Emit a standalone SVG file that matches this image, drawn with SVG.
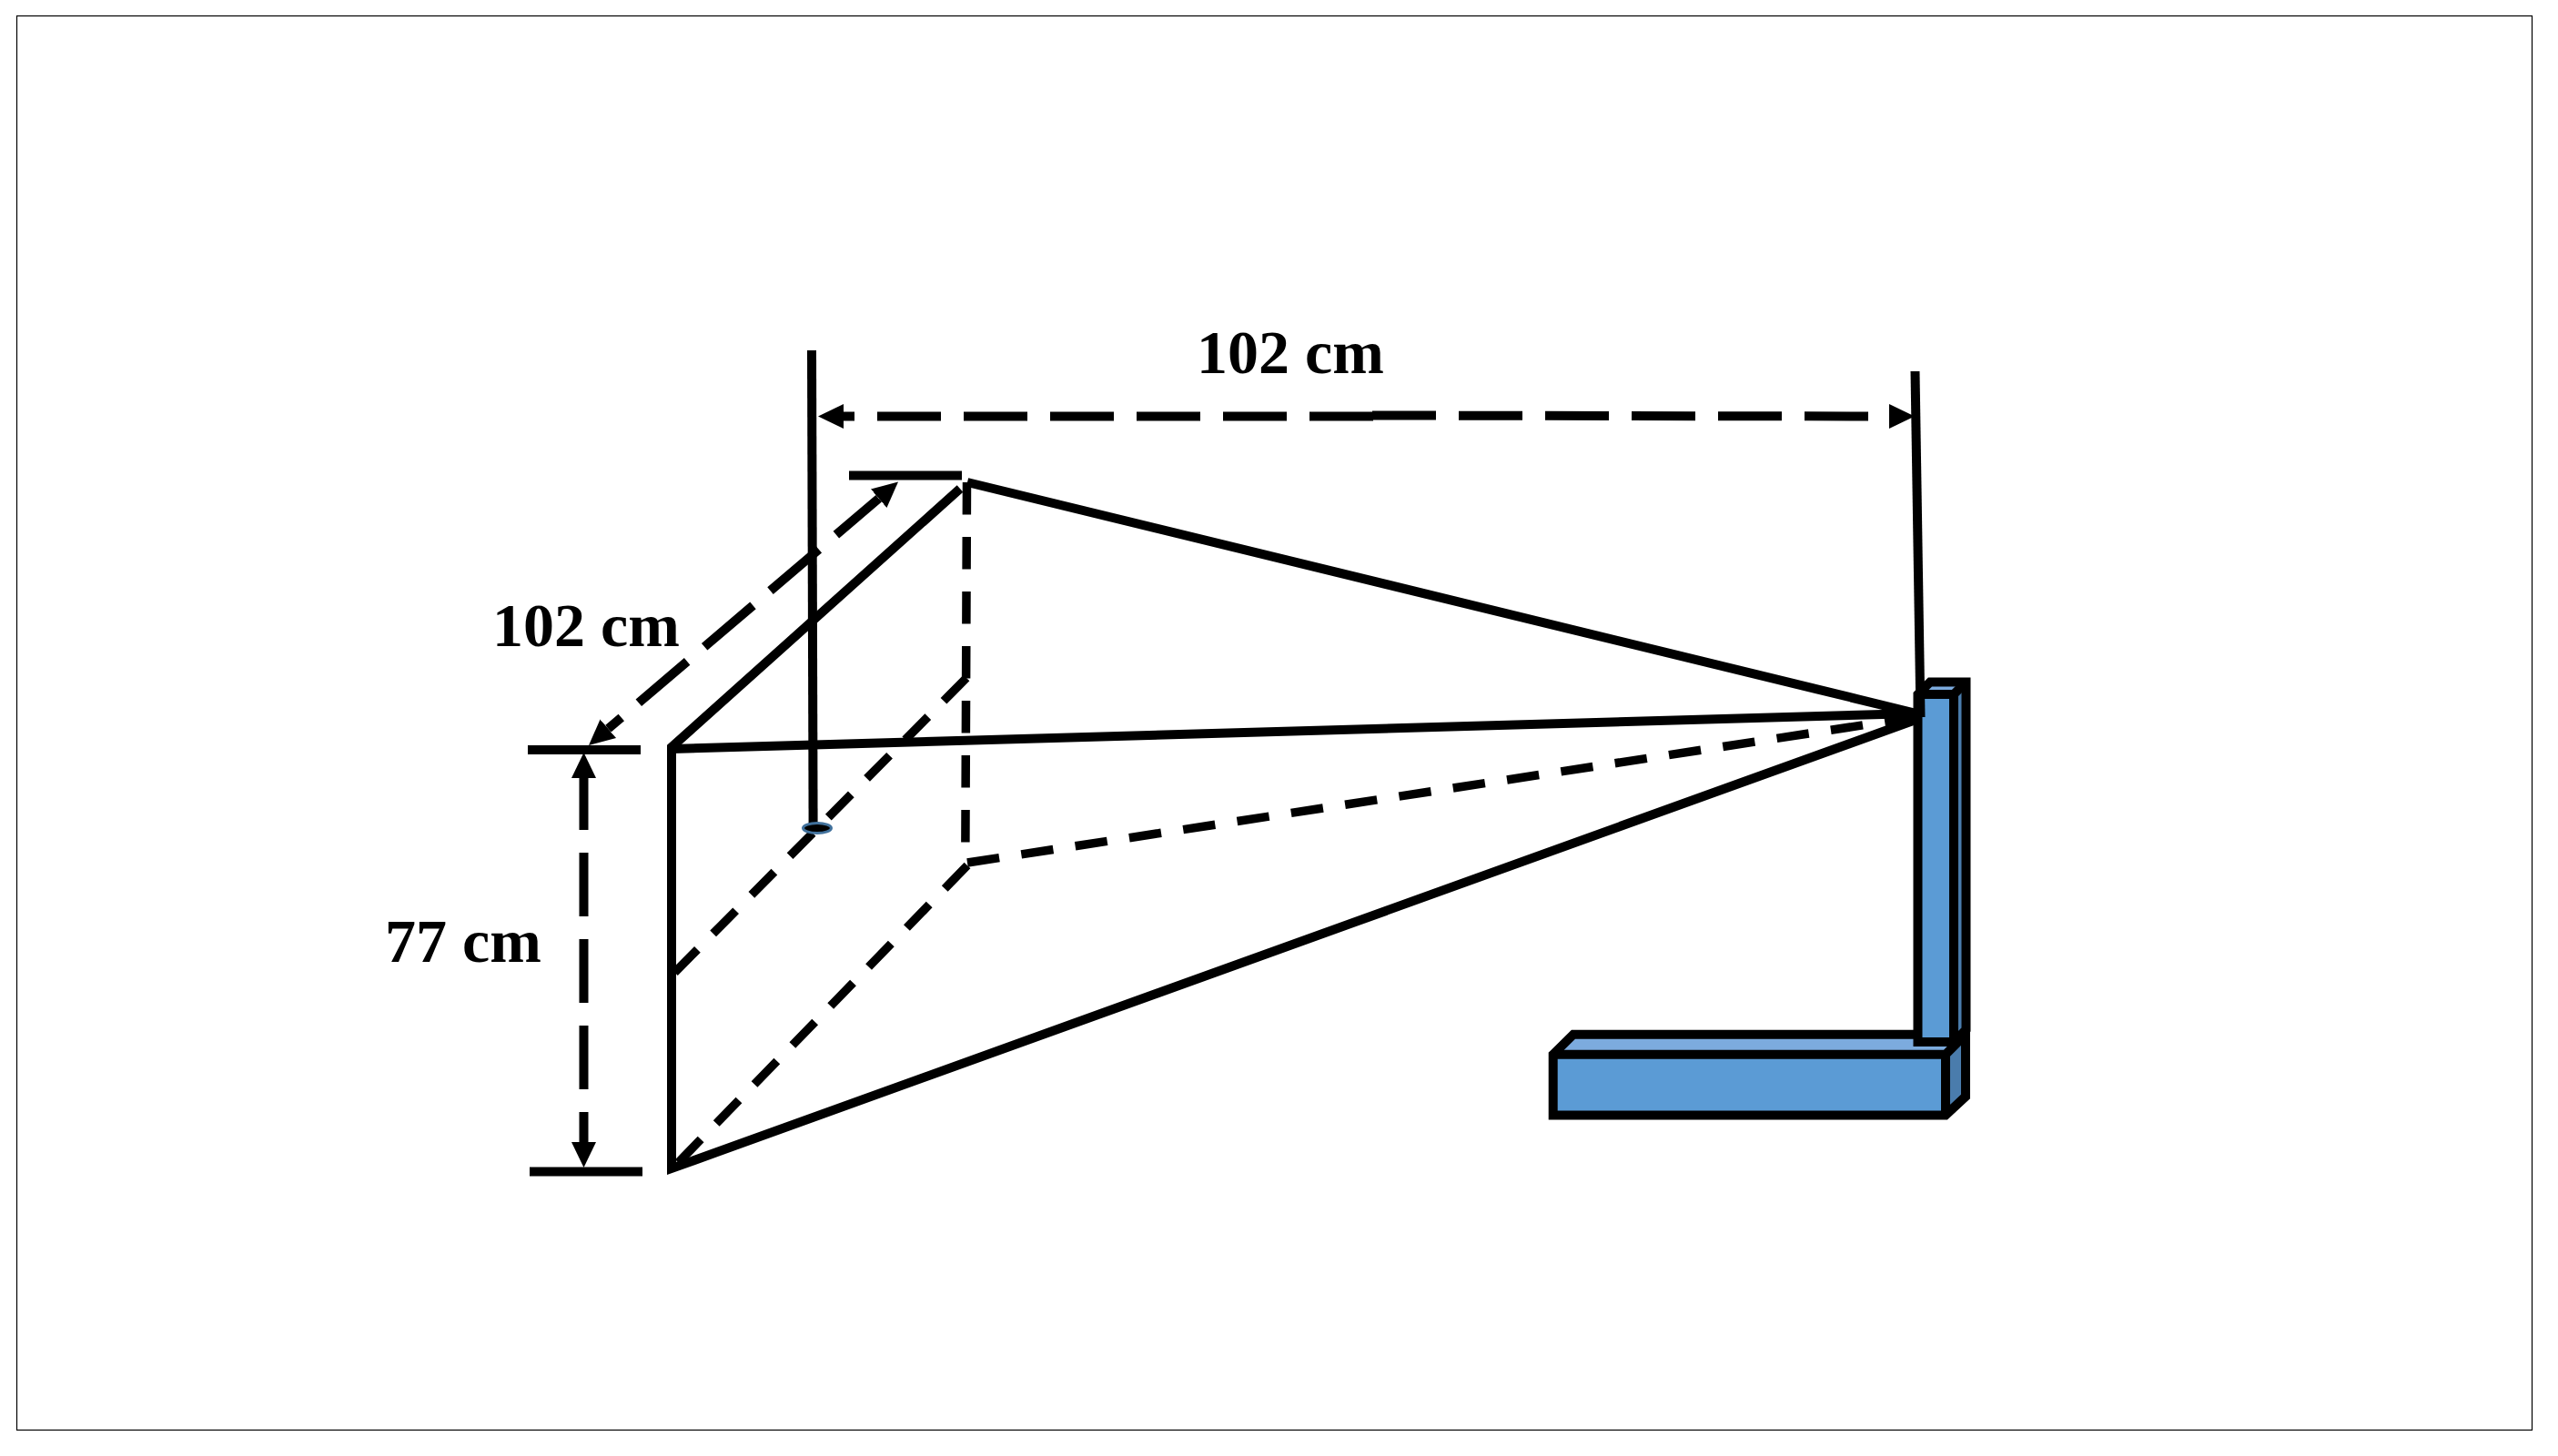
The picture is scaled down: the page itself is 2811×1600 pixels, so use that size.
<svg xmlns="http://www.w3.org/2000/svg" width="2811" height="1600" viewBox="0 0 2811 1600">
<style>
.s{fill:none;stroke:#000;stroke-width:10}
.d{fill:none;stroke:#000;stroke-width:9.5;stroke-dasharray:35.5 24.5}
.l{fill:none;stroke:#000;stroke-width:10;stroke-dasharray:70 25}
.e{fill:none;stroke:#000;stroke-width:10;stroke-linejoin:miter}
.front{fill:#5B9BD5}.top{fill:#7CABDE}.side{fill:#4A7CAC}
text{font-family:"Liberation Serif","Times New Roman",serif;font-weight:700;font-size:68px;fill:#000}
</style>
<defs>
<marker id="a" markerUnits="userSpaceOnUse" markerWidth="30" markerHeight="30" refX="0" refY="15" orient="auto-start-reverse"><path d="M0,1.5L28,15L0,28.5Z" fill="#000"/></marker>
</defs>
<rect width="2811" height="1600" fill="#fff"/>
<rect x="18.5" y="17.5" width="2764" height="1554" fill="#fff" stroke="#000" stroke-width="1.2"/>
<g id="base">
<path class="top" d="M1706.7,1158.7L1729,1136.7L2160,1136.7L2138,1158.7Z"/>
<path class="side" d="M2138,1158.7L2160,1136.7L2160,1205L2138,1225.5Z"/>
<rect class="front" x="1706.7" y="1158.7" width="431.3" height="66.8"/>
<path class="e" d="M1706.7,1158.7L1729,1136.7H2160V1205L2138,1225.5H1706.7Z"/>
<path class="e" d="M1706.7,1158.7H2138V1225.5M2138,1158.7L2160,1136.7"/>
</g>
<g id="post">
<path class="top" d="M2107.5,763L2121,749.5L2160.5,749.5L2147,763Z"/>
<path class="side" d="M2147,763L2160.5,749.5L2160.5,1131.5L2147,1145Z"/>
<rect class="front" x="2107.5" y="763" width="39.5" height="382"/>
<path class="e" d="M2107.5,763L2121,749.5H2160.5V1131.5L2147,1145H2107.5Z"/>
<path class="e" d="M2107.5,763H2147V1145M2147,763L2160.5,749.5"/>
</g>
<g id="connectors">
<path class="s" d="M1055,537L738,821L738,1284L2105,791"/>
<path class="s" d="M738,823L2106,784"/>
<path class="s" d="M1063,530L2106,784"/>
<path class="d" d="M1062.5,530L1060.8,948"/>
<path class="d" d="M1062,745L741,1069"/>
<path class="d" d="M1063,951L741,1282"/>
<path class="d" d="M1063,948L2105,788"/>
<path class="s" d="M892,385L893.6,907"/>
<path class="s" d="M2104.5,408L2110.5,788"/>
<path class="s" d="M933,522.6H1057"/>
<path class="s" d="M580,824H704"/>
<path class="s" d="M582,1287.6H706"/>
<path class="l" stroke-dashoffset="58" marker-start="url(#a)" d="M927,457.5H1509"/>
<path class="l" marker-end="url(#a)" d="M1508,456.5L2076,457.5"/>
<path class="l" stroke-dashoffset="51" marker-start="url(#a)" marker-end="url(#a)" d="M668.3,800.8L965.7,547.7"/>
<path class="l" stroke-dashoffset="13" marker-start="url(#a)" marker-end="url(#a)" d="M641.5,855L641.5,1255"/>
</g>
<g id="sensor"><ellipse cx="898" cy="910" rx="15.5" ry="5.5" fill="#000" stroke="#41719C" stroke-width="3"/></g>
<g id="labels">
<text x="1315" y="410">102 cm</text>
<text x="541" y="710">102 cm</text>
<text x="423" y="1057">77 cm</text>
</g>
</svg>
